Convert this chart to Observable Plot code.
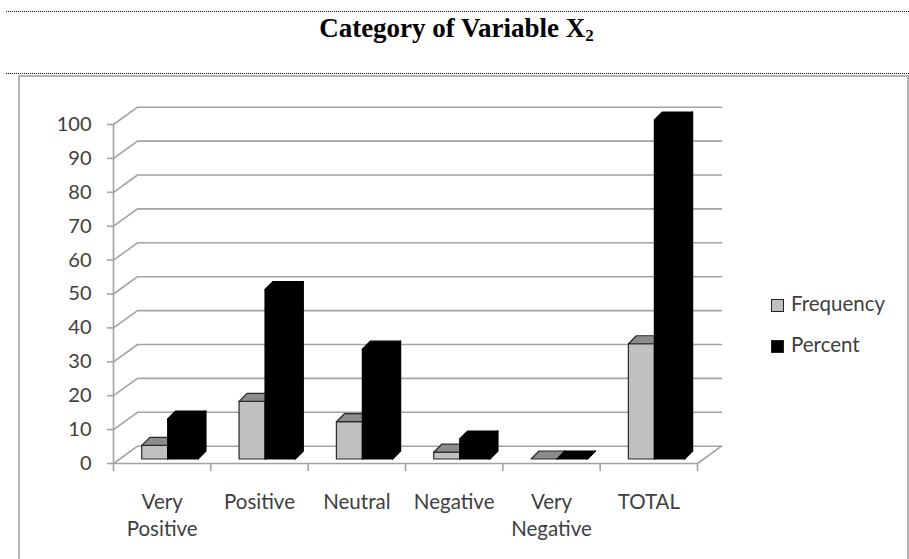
<!DOCTYPE html>
<html>
<head>
<meta charset="utf-8">
<script src="https://cdn.jsdelivr.net/npm/d3@7"></script>
<script src="https://cdn.jsdelivr.net/npm/@observablehq/plot@0.6"></script>
<style>
  body { margin: 0; background: #fff; }
  #wrap { position: relative; width: 909px; height: 559px; overflow: hidden; font-family: Lato, "Open Sans", sans-serif; }
  .dots { position: absolute; left: 6px; width: 903px; height: 0; border-top: 1.5px dotted #111; }
  #title { position: absolute; left: 0; width: 913px; top: 15px; text-align: center;
           font: bold 27px/27px "Liberation Serif", "Times New Roman", serif; color: #000; }
  #title sub { font-size: 17px; vertical-align: -4px; line-height: 0; }
  #box { position: absolute; left: 18px; top: 75px; width: 887px; height: 500px; border: 2px solid #b4b4b4; border-bottom: none; }
  #chart { position: absolute; left: 0; top: 0; }
  .leg { position: absolute; left: 771px; font-size: 20.5px; color: #404040; line-height: 20px; white-space: nowrap; }
  .leg .sw { display: inline-block; width: 11px; height: 11px; border: 1.2px solid #222; margin-right: 7px; vertical-align: -1px; }
</style>
</head>
<body>
<div id="wrap">
  <div class="dots" style="top:11px"></div>
  <div id="title">Category of Variable X<sub>2</sub></div>
  <div class="dots" style="top:73px"></div>
  <div id="box"></div>
  <div id="chart"></div>
  <div id="legend"></div>
</div>
<script>
// ---- data ----
const categories = ["Very\nPositive", "Positive", "Neutral", "Negative", "Very\nNegative", "TOTAL"];
const series = ["Frequency", "Percent"];
const frequency = [4, 17, 11, 2, 0, 34];
const percent = [11.8, 50.0, 32.4, 5.9, 0, 100];
const yTicks = [0, 10, 20, 30, 40, 50, 60, 70, 80, 90, 100];

// ---- layout ----
const W = 909, H = 559;
const mL = 113, mR = 212, mT = 124, mB = 96;
const n = categories.length;
const pxX = (W - mL - mR) / n;      // px per category unit
const pxY = (H - mT - mB) / 100;    // px per value unit
const Dx = 24 / pxX, Dy = 17.3 / pxY;      // floor / wall depth
const bx = 8 / pxX, by = 8 / pxY;          // bar depth
const base = 4 / pxY;                      // bar base raised (mid depth)
const slots = [[0.295, 0.562], [0.562, 0.873]];
const fills = {Frequency: {front: "#c0c0c0", top: "#8c8c8c", side: "#a6a6a6", stroke: "#2a2a2a"},
               Percent: {front: "#000", top: "#000", side: "#000", stroke: "#000"}};
const values = {Frequency: frequency, Percent: percent};
const grid = "#a3a3a3";
const textColor = "#404040";

// back wall gridlines
const gridPts = yTicks.flatMap(v => [
  {v, x: 0, y: v}, {v, x: Dx, y: v + Dy}, {v, x: n + Dx, y: v + Dy}
]);
const floorRight = [{x: n, y: 0}, {x: n + Dx, y: Dy}];

// bar faces
const marks = [];
series.forEach((s, si) => {
  const fronts = [], tops = [], sides = [];
  categories.forEach((c, i) => {
    const a = i + slots[si][0], b = i + slots[si][1];
    const t = base + values[s][i];
    fronts.push({x1: a, x2: b, y1: base, y2: t});
    tops.push({id: i, x: a, y1: t, y2: t}, {id: i, x: a + bx, y1: t, y2: t + by},
              {id: i, x: b, y1: t, y2: t + by}, {id: i, x: b + bx, y1: t + by, y2: t + by});
    sides.push({id: i, x: b, y1: base, y2: t}, {id: i, x: b + bx, y1: base + by, y2: t + by});
  });
  const f = fills[s];
  marks.push(
    Plot.areaY(sides, {x: "x", y1: "y1", y2: "y2", z: "id", fill: f.side, stroke: f.stroke, strokeWidth: 1.2, strokeLinejoin: "round"}),
    Plot.rect(fronts, {x1: "x1", x2: "x2", y1: "y1", y2: "y2", fill: f.front, stroke: f.stroke, strokeWidth: 1.2, strokeLinejoin: "round"}),
    Plot.areaY(tops, {x: "x", y1: "y1", y2: "y2", z: "id", fill: f.top, stroke: f.stroke, strokeWidth: 1.2, strokeLinejoin: "round"})
  );
});

const chart = Plot.plot({
  width: W, height: H,
  marginLeft: mL, marginRight: mR, marginTop: mT, marginBottom: mB,
  style: {background: "transparent", fontFamily: "Lato, sans-serif", overflow: "visible"},
  x: {type: "linear", domain: [0, n], axis: null},
  y: {type: "linear", domain: [0, 100], axis: null},
  marks: [
    Plot.line(gridPts, {x: "x", y: "y", z: "v", stroke: grid, strokeWidth: 1.6}),
    Plot.line(floorRight, {x: "x", y: "y", stroke: grid, strokeWidth: 1.6}),
    Plot.ruleY([0], {x1: 0, x2: n, stroke: grid, strokeWidth: 1.6}),
    Plot.ruleX(d3.range(n + 1), {x: d => d, y1: 0, y2: -8 / pxY, stroke: grid, strokeWidth: 1.6}),
    Plot.ruleX([0], {y1: 0, y2: 100, stroke: grid, strokeWidth: 1.6}),
    Plot.ruleY(yTicks, {y: d => d, x1: 0, x2: -6 / pxX, stroke: grid, strokeWidth: 1.6}),
    Plot.text(yTicks, {x: 0, y: d => d, text: d => String(d), textAnchor: "end", dx: -22, fill: textColor, fontSize: 20}),
    ...marks,
    Plot.text(categories, {x: (d, i) => i + 0.5, y: 0, text: d => d, lineAnchor: "top", dy: 26.5, lineHeight: 1.32, fill: textColor, fontSize: 20.5})
  ]
});
document.getElementById("chart").appendChild(chart);

// legend
const legendEl = document.getElementById("legend");
const legTop = {Frequency: 293, Percent: 334};
series.forEach(s => {
  const row = document.createElement("div");
  row.className = "leg";
  row.style.top = legTop[s] + "px";
  const sw = document.createElement("span");
  sw.className = "sw";
  sw.style.background = fills[s].front;
  row.appendChild(sw);
  row.appendChild(document.createTextNode(s));
  legendEl.appendChild(row);
});
</script>
</body>
</html>
